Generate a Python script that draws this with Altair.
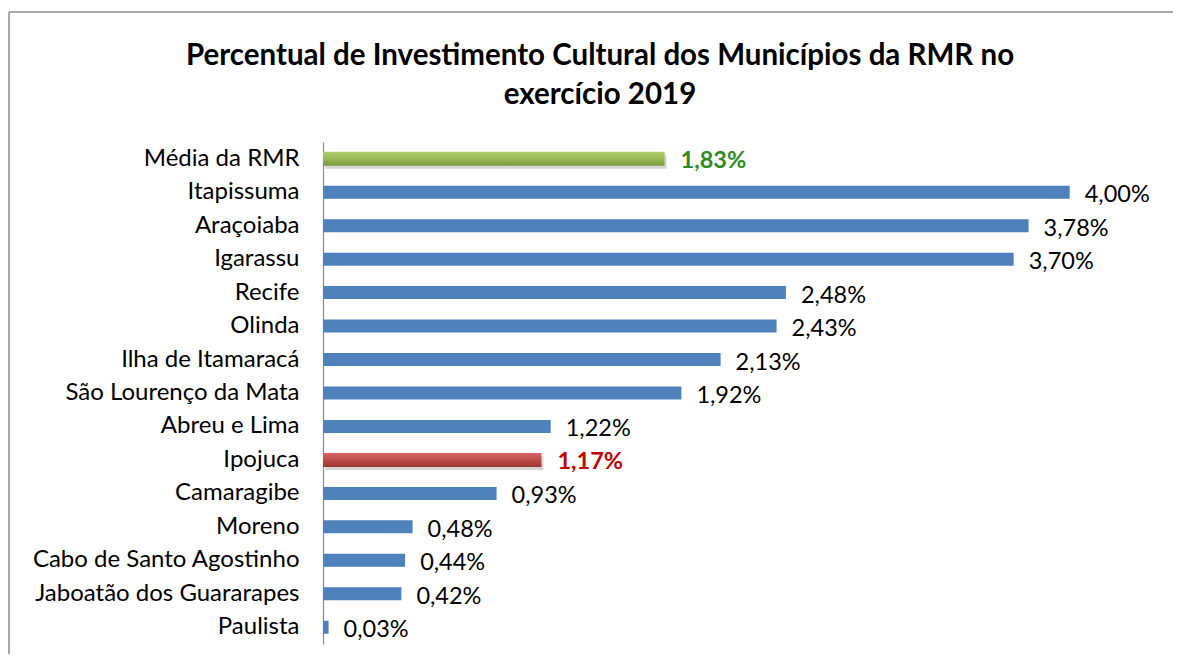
import altair as alt
import pandas as pd

categories = ["Média da RMR", "Itapissuma", "Araçoiaba", "Igarassu", "Recife", "Olinda",
              "Ilha de Itamaracá", "São Lourenço da Mata", "Abreu e Lima", "Ipojuca",
              "Camaragibe", "Moreno", "Cabo de Santo Agostinho", "Jaboatão dos Guararapes",
              "Paulista"]
values = [1.83, 4.00, 3.78, 3.70, 2.48, 2.43, 2.13, 1.92, 1.22, 1.17, 0.93, 0.48, 0.44, 0.42, 0.03]
groups = ["media", "normal", "normal", "normal", "normal", "normal", "normal", "normal",
          "normal", "destaque", "normal", "normal", "normal", "normal", "normal"]
title_lines = ["Percentual de Investimento Cultural dos Municípios da RMR no", "exercício 2019"]
title_index = [0, 1]

df = pd.DataFrame({"cat": categories, "v": values, "g": groups})
tdf = pd.DataFrame({"line": title_lines, "i": title_index})

FONT = "Lato"
FS = 24
W, H = 840, 502
PAD_R = 10

y_enc = alt.Y("cat:N", sort=categories,
              scale=alt.Scale(paddingInner=0, paddingOuter=0),
              axis=alt.Axis(title=None, ticks=False, labelPadding=24, labelFontSize=FS,
                            labelFont=FONT, labelColor="#000000", labelLimit=0,
                            domainColor="#8c8c8c", domainWidth=1.2, grid=False))
x_enc = alt.X("v:Q", scale=alt.Scale(domain=[0, 4.5], nice=False), axis=None)

base = alt.Chart(df).encode(y=y_enc, x=x_enc).transform_calculate(
    lab="replace(format(datum.v, '.2f'), '.', ',') + '%'"
)

green = alt.Gradient(gradient="linear", x1=0, x2=0, y1=0, y2=1,
                     stops=[alt.GradientStop(color="#B2D06E", offset=0),
                            alt.GradientStop(color="#9BBB59", offset=0.45),
                            alt.GradientStop(color="#7B9A3C", offset=1)])
red = alt.Gradient(gradient="linear", x1=0, x2=0, y1=0, y2=1,
                   stops=[alt.GradientStop(color="#D86764", offset=0),
                          alt.GradientStop(color="#C0504D", offset=0.45),
                          alt.GradientStop(color="#9B3431", offset=1)])

shadow = base.transform_filter("datum.g != 'normal'").mark_bar(
    size=14, color="#8a8a8a", opacity=0.35, yOffset=3, xOffset=2)
blue_bars = base.transform_filter("datum.g == 'normal'").mark_bar(size=13, color="#4F81BD")
green_bar = base.transform_filter("datum.g == 'media'").mark_bar(size=14, color=green)
red_bar = base.transform_filter("datum.g == 'destaque'").mark_bar(size=14, color=red)

labels = base.transform_filter("datum.g == 'normal'").mark_text(
    align="left", baseline="middle", dx=15, dy=3, font=FONT, fontSize=23.5, color="#000000"
).encode(text="lab:N")
lab_green = base.transform_filter("datum.g == 'media'").mark_text(
    align="left", baseline="middle", dx=16, dy=2, font=FONT, fontSize=23.5,
    fontWeight="bold", color="#2E8B22").encode(text="lab:N")
lab_red = base.transform_filter("datum.g == 'destaque'").mark_text(
    align="left", baseline="middle", dx=16, dy=2, font=FONT, fontSize=23.5,
    fontWeight="bold", color="#C00000").encode(text="lab:N")

title = alt.Chart(tdf).transform_calculate(py="-86 + datum.i * 39").mark_text(
    align="center", baseline="middle", font=FONT, fontSize=29.5, fontWeight="bold",
    color="#000000"
).encode(x=alt.value(277), y=alt.Y("py:Q", scale=None), text="line:N")

one = pd.DataFrame({"a": [0]})
frame_top = alt.Chart(one).mark_rule(color="#8c8c8c", strokeWidth=1.5).encode(
    x=alt.value(-314), x2=alt.value(W + PAD_R), y=alt.value(-130))
frame_left = alt.Chart(one).mark_rule(color="#8c8c8c", strokeWidth=1.5).encode(
    x=alt.value(-314), y=alt.value(-130), y2=alt.value(H + 10))

chart = alt.layer(frame_top, frame_left, title, shadow, blue_bars, green_bar, red_bar,
                  labels, lab_green, lab_red).properties(
    width=W, height=H,
    autosize=alt.AutoSizeParams(type="none"),
    padding={"left": 315, "top": 134, "right": PAD_R, "bottom": 10},
).configure_view(stroke=None)

chart.save("out.html", embed_options={"renderer": "svg", "actions": False})
